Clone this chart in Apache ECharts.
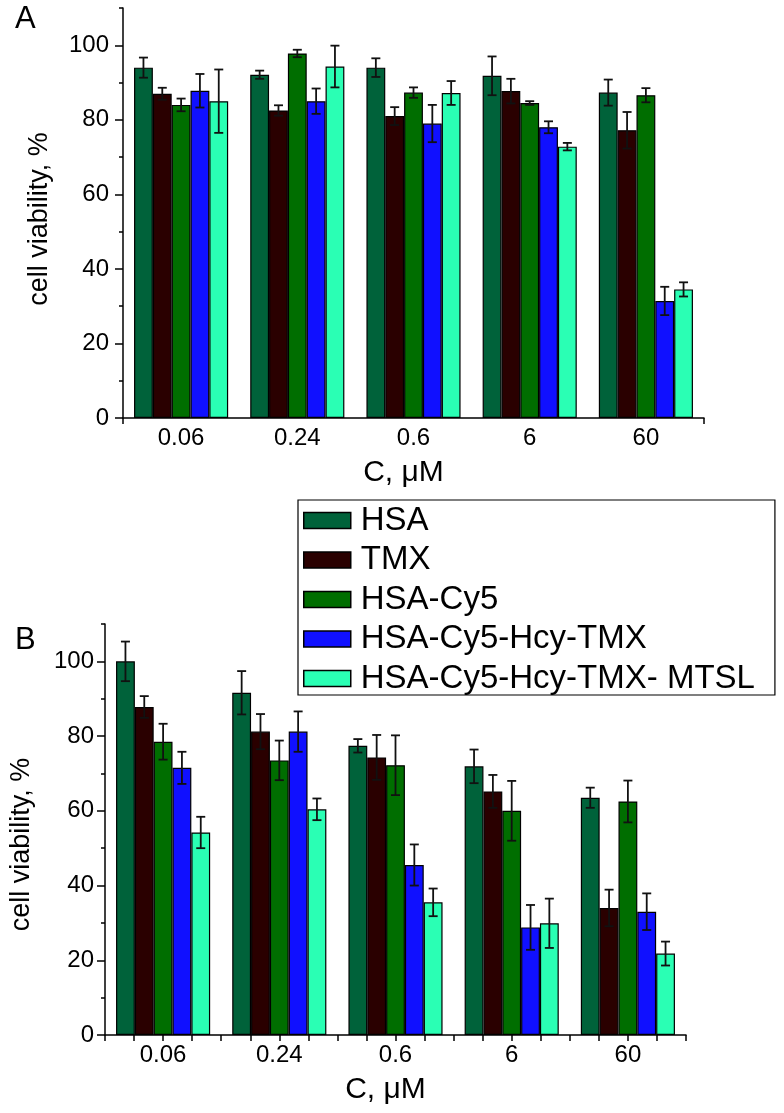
<!DOCTYPE html>
<html>
<head>
<meta charset="utf-8">
<script src="https://cdn.jsdelivr.net/npm/echarts@6/dist/echarts.min.js"></script>
<style>
html,body{margin:0;padding:0;background:#fff;}
#chart{width:784px;height:1113px;}
</style>
</head>
<body>
<div id="chart"></div>
<script>
// ---- data ----
const categories = ['0.06', '0.24', '0.6', '6', '60'];
const seriesNames = ['HSA', 'TMX', 'HSA-Cy5', 'HSA-Cy5-Hcy-TMX', 'HSA-Cy5-Hcy-TMX- MTSL'];
const colors = ['#00623a', '#2a0000', '#006e00', '#1010ff', '#2affb4'];

// Panel A
const aHSA = [94.0, 92.1, 94.0, 91.8, 87.3];
const aHSAErr = [2.7, 1.1, 2.5, 5.2, 3.5];
const aTMX = [87.0, 82.5, 81.0, 87.7, 77.2];
const aTMXErr = [1.6, 1.4, 2.4, 3.3, 4.9];
const aCy5 = [84.0, 97.8, 87.3, 84.5, 86.6];
const aCy5Err = [1.7, 1.0, 1.4, 0.5, 1.9];
const aHcy = [87.8, 85.0, 79.0, 78.0, 31.4];
const aHcyErr = [4.5, 3.4, 5.0, 1.6, 3.8];
const aMTSL = [85.0, 94.3, 87.2, 72.8, 34.5];
const aMTSLErr = [8.5, 5.6, 3.2, 1.0, 1.9];

// Panel B
const bHSA = [100.0, 91.6, 77.4, 71.9, 63.5];
const bHSAErr = [5.3, 5.8, 1.8, 4.5, 2.7];
const bTMX = [87.8, 81.2, 74.3, 65.2, 34.0];
const bTMXErr = [2.9, 4.7, 6.0, 4.4, 4.9];
const bCy5 = [78.5, 73.5, 72.2, 60.0, 62.5];
const bCy5Err = [4.8, 5.3, 8.0, 8.0, 5.6];
const bHcy = [71.5, 81.2, 45.5, 28.8, 33.0];
const bHcyErr = [4.3, 5.4, 5.5, 6.0, 4.9];
const bMTSL = [54.2, 60.4, 35.5, 29.9, 21.8];
const bMTSLErr = [4.2, 2.9, 3.7, 6.6, 3.2];

// axis ticks
const yMajorTicks = [0, 20, 40, 60, 80, 100];
const yMax = 110;
const yMinorStep = 10;

// ---- build ----
const FONT = 'Liberation Sans';
const BAR_CAT_GAP = 0.19;

const panels = [
  {vals: [aHSA, aTMX, aCy5, aHcy, aMTSL], errs: [aHSAErr, aTMXErr, aCy5Err, aHcyErr, aMTSLErr],
   grid: {left: 123, right: 80, top: 8, height: 410}, xTickCount: 1, labelMargin: 14, namePad: [0, 12, 0, 0]},
  {vals: [bHSA, bTMX, bCy5, bHcy, bMTSL], errs: [bHSAErr, bTMXErr, bCy5Err, bHcyErr, bMTSLErr],
   grid: {left: 105, right: 98, top: 624, height: 411}, xTickCount: 20, labelMargin: 11, namePad: [0, 30, 0, 0]}
];

const grid = [], xAxis = [], yAxis = [], series = [];
panels.forEach((p, gi) => {
  grid.push(Object.assign({containLabel: false}, p.grid));
  const catIdx = xAxis.length;
  xAxis.push({
    type: 'category', gridIndex: gi, position: 'bottom', data: categories,
    axisLine: {lineStyle: {color: '#000', width: 1.5}},
    axisTick: {show: false},
    axisLabel: {color: '#000', fontSize: 24, fontFamily: FONT, margin: 8},
    name: 'C, \u03bcM', nameLocation: 'middle', nameGap: 40,
    nameTextStyle: {color: '#000', fontSize: 30, fontFamily: FONT, padding: [0, 20, 0, 0]}
  });
  xAxis.push({
    type: 'value', gridIndex: gi, position: 'bottom', min: 0, max: p.xTickCount, interval: 1,
    axisLine: {show: false},
    axisTick: {show: true, length: 6, lineStyle: {color: '#000', width: 1.5}},
    axisLabel: {show: false}, splitLine: {show: false}
  });
  const yIdx = yAxis.length;
  yAxis.push({
    type: 'value', gridIndex: gi, position: 'left', min: 0, max: yMax, interval: 20,
    axisLine: {show: true, lineStyle: {color: '#000', width: 1.5}},
    axisTick: {show: true, length: 8, customValues: yMajorTicks, lineStyle: {color: '#000', width: 1.5}},
    axisLabel: {color: '#000', fontSize: 24, fontFamily: FONT, margin: p.labelMargin, customValues: yMajorTicks},
    splitLine: {show: false},
    name: 'cell viability, %', nameLocation: 'middle', nameGap: 70,
    nameTextStyle: {color: '#000', fontSize: 27, fontFamily: FONT, padding: p.namePad}
  });
  yAxis.push({
    type: 'value', gridIndex: gi, position: 'left', min: 0, max: yMax, interval: yMinorStep,
    axisLine: {show: false},
    axisTick: {show: true, length: 4, lineStyle: {color: '#000', width: 1.5}},
    axisLabel: {show: false}, splitLine: {show: false}
  });
  const errData = [];
  p.vals.forEach((vals, k) => {
    series.push({
      name: seriesNames[k], type: 'bar', xAxisIndex: catIdx, yAxisIndex: yIdx,
      data: vals, barGap: '0%', barCategoryGap: (BAR_CAT_GAP * 100) + '%',
      itemStyle: {color: colors[k], borderColor: '#000', borderWidth: 1.2},
      emphasis: {disabled: true}
    });
    vals.forEach((v, c) => errData.push([c, k, v, p.errs[k][c]]));
  });
  series.push({
    type: 'custom', xAxisIndex: catIdx, yAxisIndex: yIdx, z: 10, clip: false,
    encode: {x: 0, y: 2},
    data: errData,
    renderItem: function (params, api) {
      const c = api.value(0), k = api.value(1), v = api.value(2), e = api.value(3);
      const catW = api.size([1, 0])[0];
      const bw = catW * (1 - BAR_CAT_GAP) / 5;
      const x = api.coord([c, v])[0] + (k - 2) * bw;
      const yt = api.coord([c, v + e])[1];
      const yb = api.coord([c, v - e])[1];
      const cap = 4.5;
      const st = {stroke: '#111', lineWidth: 1.8};
      return {type: 'group', children: [
        {type: 'line', shape: {x1: x, y1: yt, x2: x, y2: yb}, style: st},
        {type: 'line', shape: {x1: x - cap, y1: yt, x2: x + cap, y2: yt}, style: st},
        {type: 'line', shape: {x1: x - cap, y1: yb, x2: x + cap, y2: yb}, style: st}
      ]};
    }
  });
});

const option = {
  backgroundColor: '#fff',
  animation: false,
  textStyle: {fontFamily: FONT},
  title: [
    {text: 'A', left: 10, top: -1, textStyle: {fontSize: 31, fontWeight: 'normal', color: '#000', fontFamily: FONT}},
    {text: 'B', left: 10, top: 620, textStyle: {fontSize: 31, fontWeight: 'normal', color: '#000', fontFamily: FONT}}
  ],
  legend: {
    orient: 'vertical', left: 298, top: 500,
    itemWidth: 47, itemHeight: 16, itemGap: 6.5,
    padding: [4, 20, 0, 5],
    borderColor: '#000', borderWidth: 1.2, backgroundColor: '#fff',
    icon: 'rect',
    itemStyle: {borderColor: '#000', borderWidth: 1.5},
    textStyle: {fontSize: 33, lineHeight: 30, color: '#000', fontFamily: FONT, padding: [0, 0, 0, 5]},
    data: seriesNames
  },
  grid: grid,
  xAxis: xAxis,
  yAxis: yAxis,
  series: series
};

const chart = echarts.init(document.getElementById('chart'), null, {renderer: 'canvas'});
chart.setOption(option);
</script>
</body>
</html>
